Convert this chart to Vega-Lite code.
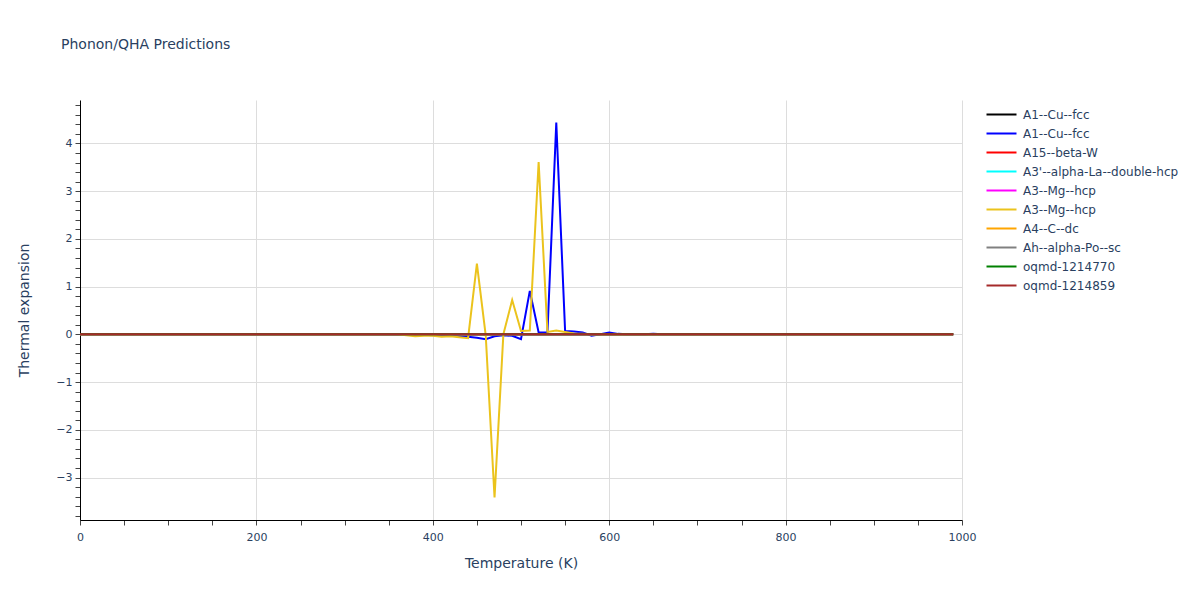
{
  "$schema": "https://vega.github.io/schema/vega-lite/v6.json",
  "width": 882,
  "height": 420,
  "autosize": {"type": "none"},
  "padding": {"left": 80, "top": 100, "right": 238, "bottom": 80},
  "background": "white",
  "title": {"text": "Phonon/QHA Predictions", "anchor": "start", "frame": "group", "dx": -19, "offset": 47, "font": "DejaVu Sans", "fontSize": 14, "fontWeight": "normal", "color": "#2a3f5f"},
  "data": {"values": [
    {"T":0,"a":0,"b":0,"c":0,"d":0,"e":0,"f":0,"g":0,"h":0,"i":0,"j":0},
    {"T":10,"a":0,"b":0,"c":0,"d":0,"e":0,"f":0,"g":0,"h":0,"i":0,"j":0},
    {"T":20,"a":0,"b":0,"c":0,"d":0,"e":0,"f":0,"g":0,"h":0,"i":0,"j":0},
    {"T":30,"a":0,"b":0,"c":0,"d":0,"e":0,"f":0,"g":0,"h":0,"i":0,"j":0},
    {"T":40,"a":0,"b":0,"c":0,"d":0,"e":0,"f":0,"g":0,"h":0,"i":0,"j":0},
    {"T":50,"a":0,"b":0,"c":0,"d":0,"e":0,"f":0,"g":0,"h":0,"i":0,"j":0},
    {"T":60,"a":0,"b":0,"c":0,"d":0,"e":0,"f":0,"g":0,"h":0,"i":0,"j":0},
    {"T":70,"a":0,"b":0,"c":0,"d":0,"e":0,"f":0,"g":0,"h":0,"i":0,"j":0},
    {"T":80,"a":0,"b":0,"c":0,"d":0,"e":0,"f":0,"g":0,"h":0,"i":0,"j":0},
    {"T":90,"a":0,"b":0,"c":0,"d":0,"e":0,"f":0,"g":0,"h":0,"i":0,"j":0},
    {"T":100,"a":0,"b":0,"c":0,"d":0,"e":0,"f":0,"g":0,"h":0,"i":0,"j":0},
    {"T":110,"a":0,"b":0,"c":0,"d":0,"e":0,"f":0,"g":0,"h":0,"i":0,"j":0},
    {"T":120,"a":0,"b":0,"c":0,"d":0,"e":0,"f":0,"g":0,"h":0,"i":0,"j":0},
    {"T":130,"a":0,"b":0,"c":0,"d":0,"e":0,"f":0,"g":0,"h":0,"i":0,"j":0},
    {"T":140,"a":0,"b":0,"c":0,"d":0,"e":0,"f":0,"g":0,"h":0,"i":0,"j":0},
    {"T":150,"a":0,"b":0,"c":0,"d":0,"e":0,"f":0,"g":0,"h":0,"i":0,"j":0},
    {"T":160,"a":0,"b":0,"c":0,"d":0,"e":0,"f":0,"g":0,"h":0,"i":0,"j":0},
    {"T":170,"a":0,"b":0,"c":0,"d":0,"e":0,"f":0,"g":0,"h":0,"i":0,"j":0},
    {"T":180,"a":0,"b":0,"c":0,"d":0,"e":0,"f":0,"g":0,"h":0,"i":0,"j":0},
    {"T":190,"a":0,"b":0,"c":0,"d":0,"e":0,"f":0,"g":0,"h":0,"i":0,"j":0},
    {"T":200,"a":0,"b":0,"c":0,"d":0,"e":0,"f":0,"g":0,"h":0,"i":0,"j":0},
    {"T":210,"a":0,"b":0,"c":0,"d":0,"e":0,"f":0,"g":0,"h":0,"i":0,"j":0},
    {"T":220,"a":0,"b":0,"c":0,"d":0,"e":0,"f":0,"g":0,"h":0,"i":0,"j":0},
    {"T":230,"a":0,"b":0,"c":0,"d":0,"e":0,"f":0,"g":0,"h":0,"i":0,"j":0},
    {"T":240,"a":0,"b":0,"c":0,"d":0,"e":0,"f":0,"g":0,"h":0,"i":0,"j":0},
    {"T":250,"a":0,"b":0,"c":0,"d":0,"e":0,"f":0,"g":0,"h":0,"i":0,"j":0},
    {"T":260,"a":0,"b":0,"c":0,"d":0,"e":0,"f":0,"g":0,"h":0,"i":0,"j":0},
    {"T":270,"a":0,"b":0,"c":0,"d":0,"e":0,"f":0,"g":0,"h":0,"i":0,"j":0},
    {"T":280,"a":0,"b":0,"c":0,"d":0,"e":0,"f":0,"g":0,"h":0,"i":0,"j":0},
    {"T":290,"a":0,"b":0,"c":0,"d":0,"e":0,"f":0,"g":0,"h":0,"i":0,"j":0},
    {"T":300,"a":0,"b":0,"c":0,"d":0,"e":0,"f":0,"g":0,"h":0,"i":0,"j":0},
    {"T":310,"a":0,"b":0,"c":0,"d":0,"e":0,"f":0,"g":0,"h":0,"i":0,"j":0},
    {"T":320,"a":0,"b":0,"c":0,"d":0,"e":0,"f":0,"g":0,"h":0,"i":0,"j":0},
    {"T":330,"a":0,"b":0,"c":0,"d":0,"e":0,"f":0,"g":0,"h":0,"i":0,"j":0},
    {"T":340,"a":0,"b":0,"c":0,"d":0,"e":0,"f":0,"g":0,"h":0,"i":0,"j":0},
    {"T":350,"a":0,"b":0,"c":0,"d":0,"e":0,"f":0,"g":0,"h":0,"i":0,"j":0},
    {"T":360,"a":0,"b":0,"c":0,"d":0,"e":0,"f":0,"g":0,"h":0,"i":0,"j":0},
    {"T":370,"a":0,"b":0,"c":0,"d":0,"e":0,"f":-0.02,"g":0,"h":0,"i":0,"j":0},
    {"T":380,"a":0,"b":-0.01,"c":0,"d":0,"e":0,"f":-0.04,"g":0,"h":0,"i":0,"j":0},
    {"T":390,"a":0,"b":-0.01,"c":0,"d":0,"e":0,"f":-0.03,"g":0,"h":0,"i":0,"j":0},
    {"T":400,"a":0,"b":-0.02,"c":0,"d":0,"e":0,"f":-0.03,"g":0,"h":0,"i":0,"j":0},
    {"T":410,"a":0,"b":-0.03,"c":0,"d":0,"e":0,"f":-0.05,"g":0,"h":0,"i":0,"j":0},
    {"T":420,"a":0,"b":-0.03,"c":0,"d":0,"e":0,"f":-0.04,"g":0,"h":0,"i":0,"j":0},
    {"T":430,"a":0,"b":-0.04,"c":0,"d":0,"e":0,"f":-0.06,"g":0,"h":0,"i":0,"j":0},
    {"T":440,"a":0,"b":-0.05,"c":0,"d":0,"e":0,"f":-0.08,"g":0,"h":0,"i":0,"j":0},
    {"T":450,"a":0,"b":-0.07,"c":0,"d":0,"e":0,"f":1.48,"g":0,"h":0,"i":0,"j":0},
    {"T":460,"a":0,"b":-0.1,"c":0,"d":0,"e":0,"f":-0.02,"g":0,"h":0,"i":0,"j":0},
    {"T":470,"a":0,"b":-0.04,"c":0,"d":0,"e":0,"f":-3.42,"g":0,"h":0,"i":0,"j":0},
    {"T":480,"a":0,"b":-0.02,"c":0,"d":0,"e":0,"f":0,"g":0,"h":0,"i":0,"j":0},
    {"T":490,"a":0,"b":-0.03,"c":0,"d":0,"e":0,"f":0.72,"g":0,"h":0,"i":0,"j":0},
    {"T":500,"a":0,"b":-0.1,"c":0,"d":0,"e":0,"f":0.07,"g":0,"h":0,"i":0,"j":0},
    {"T":510,"a":0,"b":0.91,"c":0,"d":0,"e":0,"f":0.08,"g":0,"h":0,"i":0,"j":0},
    {"T":520,"a":0,"b":0.04,"c":0,"d":0,"e":0,"f":3.61,"g":0,"h":0,"i":0,"j":0},
    {"T":530,"a":0,"b":0.04,"c":0,"d":0,"e":0,"f":0.05,"g":0,"h":0,"i":0,"j":0},
    {"T":540,"a":0,"b":4.44,"c":0,"d":0,"e":0,"f":0.08,"g":0,"h":0,"i":0,"j":0},
    {"T":550,"a":0,"b":0.07,"c":0,"d":0,"e":0,"f":0.05,"g":0,"h":0,"i":0,"j":0},
    {"T":560,"a":0,"b":0.06,"c":0,"d":0,"e":0,"f":0.02,"g":0,"h":0,"i":0,"j":0},
    {"T":570,"a":0,"b":0.04,"c":0,"d":0,"e":0,"f":0.01,"g":0,"h":0,"i":0,"j":0},
    {"T":580,"a":0,"b":-0.03,"c":0,"d":0,"e":0,"f":0,"g":0,"h":0,"i":0,"j":0},
    {"T":590,"a":0,"b":0,"c":0,"d":0,"e":0,"f":0,"g":0,"h":0,"i":0,"j":0},
    {"T":600,"a":0,"b":0.04,"c":0,"d":0,"e":0,"f":0,"g":0,"h":0,"i":0,"j":0},
    {"T":610,"a":0,"b":0.01,"c":0,"d":0,"e":0,"f":0,"g":0,"h":0,"i":0,"j":0},
    {"T":620,"a":0,"b":0,"c":0,"d":0,"e":0,"f":0,"g":0,"h":0,"i":0,"j":0},
    {"T":630,"a":0,"b":0,"c":0,"d":0,"e":0,"f":0,"g":0,"h":0,"i":0,"j":0},
    {"T":640,"a":0,"b":0,"c":0,"d":0,"e":0,"f":0,"g":0,"h":0,"i":0,"j":0},
    {"T":650,"a":0,"b":0.01,"c":0,"d":0,"e":0,"f":0,"g":0,"h":0,"i":0,"j":0},
    {"T":660,"a":0,"b":0,"c":0,"d":0,"e":0,"f":0,"g":0,"h":0,"i":0,"j":0},
    {"T":670,"a":0,"b":0,"c":0,"d":0,"e":0,"f":0,"g":0,"h":0,"i":0,"j":0},
    {"T":680,"a":0,"b":0,"c":0,"d":0,"e":0,"f":0,"g":0,"h":0,"i":0,"j":0},
    {"T":690,"a":0,"b":0,"c":0,"d":0,"e":0,"f":0,"g":0,"h":0,"i":0,"j":0},
    {"T":700,"a":0,"b":0,"c":0,"d":0,"e":0,"f":0,"g":0,"h":0,"i":0,"j":0},
    {"T":710,"a":0,"b":0,"c":0,"d":0,"e":0,"f":0,"g":0,"h":0,"i":0,"j":0},
    {"T":720,"a":0,"b":0,"c":0,"d":0,"e":0,"f":0,"g":0,"h":0,"i":0,"j":0},
    {"T":730,"a":0,"b":0,"c":0,"d":0,"e":0,"f":0,"g":0,"h":0,"i":0,"j":0},
    {"T":740,"a":0,"b":0,"c":0,"d":0,"e":0,"f":0,"g":0,"h":0,"i":0,"j":0},
    {"T":750,"a":0,"b":0,"c":0,"d":0,"e":0,"f":0,"g":0,"h":0,"i":0,"j":0},
    {"T":760,"a":0,"b":0,"c":0,"d":0,"e":0,"f":0,"g":0,"h":0,"i":0,"j":0},
    {"T":770,"a":0,"b":0,"c":0,"d":0,"e":0,"f":0,"g":0,"h":0,"i":0,"j":0},
    {"T":780,"a":0,"b":0,"c":0,"d":0,"e":0,"f":0,"g":0,"h":0,"i":0,"j":0},
    {"T":790,"a":0,"b":0,"c":0,"d":0,"e":0,"f":0,"g":0,"h":0,"i":0,"j":0},
    {"T":800,"a":0,"b":0,"c":0,"d":0,"e":0,"f":0,"g":0,"h":0,"i":0,"j":0},
    {"T":810,"a":0,"b":0,"c":0,"d":0,"e":0,"f":0,"g":0,"h":0,"i":0,"j":0},
    {"T":820,"a":0,"b":0,"c":0,"d":0,"e":0,"f":0,"g":0,"h":0,"i":0,"j":0},
    {"T":830,"a":0,"b":0,"c":0,"d":0,"e":0,"f":0,"g":0,"h":0,"i":0,"j":0},
    {"T":840,"a":0,"b":0,"c":0,"d":0,"e":0,"f":0,"g":0,"h":0,"i":0,"j":0},
    {"T":850,"a":0,"b":0,"c":0,"d":0,"e":0,"f":0,"g":0,"h":0,"i":0,"j":0},
    {"T":860,"a":0,"b":0,"c":0,"d":0,"e":0,"f":0,"g":0,"h":0,"i":0,"j":0},
    {"T":870,"a":0,"b":0,"c":0,"d":0,"e":0,"f":0,"g":0,"h":0,"i":0,"j":0},
    {"T":880,"a":0,"b":0,"c":0,"d":0,"e":0,"f":0,"g":0,"h":0,"i":0,"j":0},
    {"T":890,"a":0,"b":0,"c":0,"d":0,"e":0,"f":0,"g":0,"h":0,"i":0,"j":0},
    {"T":900,"a":0,"b":0,"c":0,"d":0,"e":0,"f":0,"g":0,"h":0,"i":0,"j":0},
    {"T":910,"a":0,"b":0,"c":0,"d":0,"e":0,"f":0,"g":0,"h":0,"i":0,"j":0},
    {"T":920,"a":0,"b":0,"c":0,"d":0,"e":0,"f":0,"g":0,"h":0,"i":0,"j":0},
    {"T":930,"a":0,"b":0,"c":0,"d":0,"e":0,"f":0,"g":0,"h":0,"i":0,"j":0},
    {"T":940,"a":0,"b":0,"c":0,"d":0,"e":0,"f":0,"g":0,"h":0,"i":0,"j":0},
    {"T":950,"a":0,"b":0,"c":0,"d":0,"e":0,"f":0,"g":0,"h":0,"i":0,"j":0},
    {"T":960,"a":0,"b":0,"c":0,"d":0,"e":0,"f":0,"g":0,"h":0,"i":0,"j":0},
    {"T":970,"a":0,"b":0,"c":0,"d":0,"e":0,"f":0,"g":0,"h":0,"i":0,"j":0},
    {"T":980,"a":0,"b":0,"c":0,"d":0,"e":0,"f":0,"g":0,"h":0,"i":0,"j":0},
    {"T":990,"a":0,"b":0,"c":0,"d":0,"e":0,"f":0,"g":0,"h":0,"i":0,"j":0}
  ]},
  "transform": [{"fold": ["a","b","c","d","e","f","g","h","i","j"], "as": ["series","value"]}],
  "mark": {"type": "line", "strokeWidth": 2, "clip": true},
  "encoding": {
    "x": {
      "field": "T", "type": "quantitative",
      "scale": {"domain": [0, 1000], "nice": false, "zero": false},
      "axis": {
        "title": "Temperature (K)",
        "values": [0,50,100,150,200,250,300,350,400,450,500,550,600,650,700,750,800,850,900,950,1000],
        "labelExpr": "datum.value % 200 === 0 ? format(datum.value, 'd') : ''",
        "labelOverlap": false, "labelFlush": false,
        "gridColor": "#dddddd",
        "gridOpacity": {"condition": {"test": "datum.value % 200 === 0", "value": 1}, "value": 0},
        "domainColor": "#000000", "tickColor": "#444444", "tickSize": 5,
        "labelFont": "DejaVu Sans", "labelFontSize": 11, "labelColor": "#2a3f5f", "labelPadding": 6,
        "titleFont": "DejaVu Sans", "titleFontSize": 14, "titleFontWeight": "normal", "titleColor": "#2a3f5f", "titlePadding": 14
      }
    },
    "y": {
      "field": "value", "type": "quantitative",
      "scale": {"domain": [-3.89, 4.91], "nice": false, "zero": false},
      "axis": {
        "title": "Thermal expansion",
        "values": [-3.8,-3.6,-3.4,-3.2,-3,-2.8,-2.6,-2.4,-2.2,-2,-1.8,-1.6,-1.4,-1.2,-1,-0.8,-0.6,-0.4,-0.2,0,0.2,0.4,0.6,0.8,1,1.2,1.4,1.6,1.8,2,2.2,2.4,2.6,2.8,3,3.2,3.4,3.6,3.8,4,4.2,4.4,4.6,4.8],
        "labelExpr": "abs(datum.value - round(datum.value)) < 0.001 ? format(round(datum.value), 'd') : ''",
        "labelOverlap": false, "labelFlush": false,
        "gridColor": "#dddddd",
        "gridOpacity": {"condition": {"test": "abs(datum.value - round(datum.value)) < 0.001", "value": 1}, "value": 0},
        "domainColor": "#000000", "tickColor": "#444444", "tickSize": 5,
        "labelFont": "DejaVu Sans", "labelFontSize": 11, "labelColor": "#2a3f5f", "labelPadding": 3,
        "titleFont": "DejaVu Sans", "titleFontSize": 14, "titleFontWeight": "normal", "titleColor": "#2a3f5f", "titlePadding": 24
      }
    },
    "color": {
      "field": "series", "type": "nominal",
      "scale": {
        "domain": ["a","b","c","d","e","f","g","h","i","j"],
        "range": ["#000000","#0000ff","#ff0000","#00ffff","#ff00ff","#ebc31c","#ffa500","#808080","#008000","#a52a2a"]
      },
      "legend": {
        "title": null, "orient": "none", "legendX": 913, "legendY": 6, "padding": 0,
        "symbolType": "M-2,0H2", "symbolSize": 225, "symbolStrokeWidth": 2,
        "labelFont": "DejaVu Sans", "labelFontSize": 12, "labelColor": "#2a3f5f", "labelOffset": 13, "labelLimit": 300,
        "rowPadding": 4,
        "labelExpr": "{'a':'A1--Cu--fcc','b':'A1--Cu--fcc','c':'A15--beta-W','d':\"A3'--alpha-La--double-hcp\",'e':'A3--Mg--hcp','f':'A3--Mg--hcp','g':'A4--C--dc','h':'Ah--alpha-Po--sc','i':'oqmd-1214770','j':'oqmd-1214859'}[datum.value]"
      }
    }
  },
  "config": {"view": {"stroke": null}, "font": "DejaVu Sans"}
}
